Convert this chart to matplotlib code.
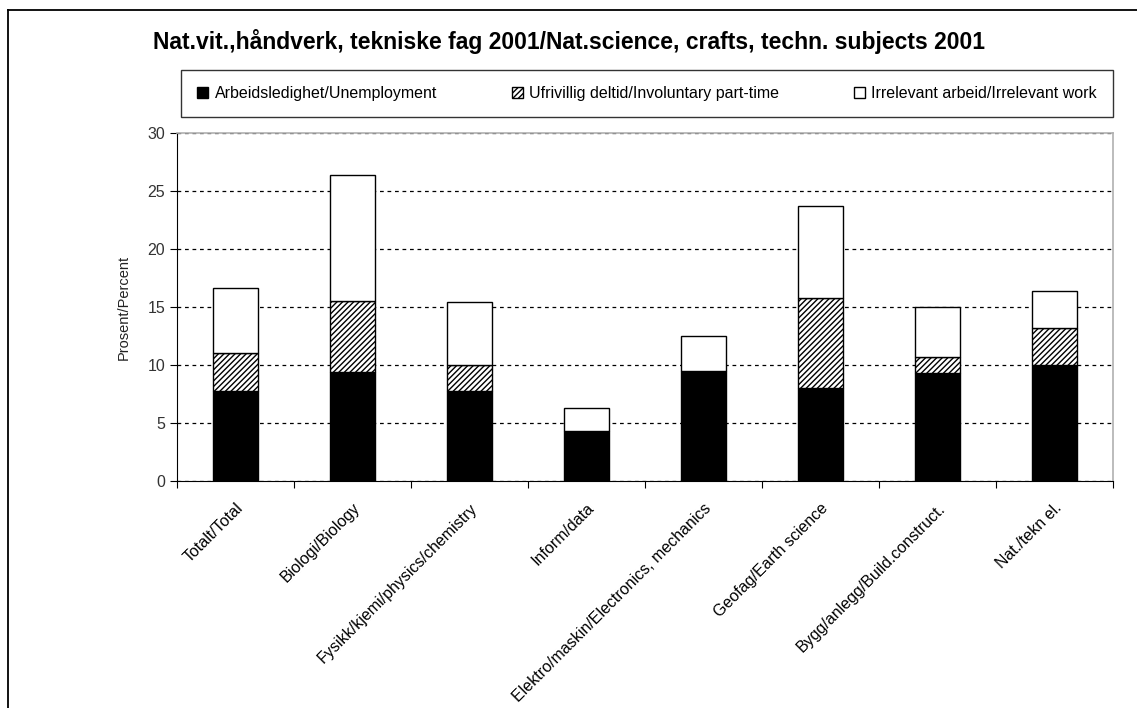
import numpy as np
import matplotlib.pyplot as plt
from matplotlib.patches import Rectangle
from matplotlib.lines import Line2D

plt.rcParams['font.family'] = ['Liberation Sans', 'DejaVu Sans']
plt.rcParams['hatch.linewidth'] = 1.0

categories = ["Totalt/Total", "Biologi/Biology", "Fysikk/kjemi/physics/chemistry",
              "Inform/data", "Elektro/maskin/Electronics, mechanics",
              "Geofag/Earth science", "Bygg/anlegg/Build.construct.", "Nat./tekn el."]
unemployment = [7.8, 9.4, 7.8, 4.3, 9.5, 8.0, 9.3, 10.0]
part_time = [3.2, 6.1, 2.2, 0.0, 0.0, 7.8, 1.4, 3.2]
irrelevant = [5.6, 10.9, 5.4, 2.0, 3.0, 7.9, 4.3, 3.2]

series_names = ["Arbeidsledighet/Unemployment",
                "Ufrivillig deltid/Involuntary part-time",
                "Irrelevant arbeid/Irrelevant work"]

W, H = 1137, 708
fig = plt.figure(figsize=(W / 100, H / 100), dpi=100)
# outer chart frame (only top and left edges are visible in the picture)
fig.lines.append(Line2D([8 / W, 1], [1 - 10 / H, 1 - 10 / H], transform=fig.transFigure,
                        color='black', linewidth=1.3))
fig.lines.append(Line2D([8 / W, 8 / W], [0, 1 - 10 / H], transform=fig.transFigure,
                        color='black', linewidth=1.3))

ax = fig.add_axes([177 / W, 1 - 481 / H, (1113 - 177) / W, (481 - 133) / H])

x = np.arange(len(categories))
w = 0.39
un = np.array(unemployment)
pt = np.array(part_time)
ir = np.array(irrelevant)

ax.bar(x, un, w, color='black', edgecolor='black', linewidth=1, zorder=3)
ax.bar(x, pt, w, bottom=un, color='white', edgecolor='black', hatch='//////',
       linewidth=1, zorder=3)
ax.bar(x, ir, w, bottom=un + pt, color='white', edgecolor='black', linewidth=1, zorder=3)

ax.set_xlim(-0.5, len(categories) - 0.5)
ax.set_ylim(0, 30)
ax.set_yticks(range(0, 31, 5))
ax.yaxis.grid(True, linestyle=(0, (3, 3)), color='black', linewidth=0.9, zorder=0)
ax.set_axisbelow(True)

ax.set_xticks(np.arange(len(categories) + 1) - 0.5, minor=False)
ax.set_xticklabels([])
ax.set_xticks(x, minor=True)
ax.set_xticklabels(categories, minor=True, rotation=45, ha='right',
                   rotation_mode='anchor', fontsize=11.5)
ax.tick_params(axis='x', which='minor', length=0, pad=14)
ax.tick_params(axis='x', which='major', length=5, direction='out', color='black')
ax.tick_params(axis='y', length=5, direction='out', labelsize=11.5, labelcolor='#333333',
               color='black')

for s in ['top', 'right']:
    ax.spines[s].set_color('#b0b0b0')
    ax.spines[s].set_linewidth(1.2)
for s in ['left', 'bottom']:
    ax.spines[s].set_color('black')

ax.set_ylabel("Prosent/Percent", fontsize=10.5, labelpad=12, color='#222222')

fig.text(569 / W, 1 - 42 / H,
         "Nat.vit.,håndverk, tekniske fag 2001/Nat.science, crafts, techn. subjects 2001",
         ha='center', va='center', fontsize=16.5, fontweight='bold')

handles = [Rectangle((0, 0), 1, 1, facecolor='black', edgecolor='black'),
           Rectangle((0, 0), 1, 1, facecolor='white', edgecolor='black', hatch='//////'),
           Rectangle((0, 0), 1, 1, facecolor='white', edgecolor='black')]
leg = fig.legend(handles, series_names, loc='upper left',
                 bbox_to_anchor=(181 / W, 1 - 115 / H, (1113 - 181) / W, 45 / H),
                 mode='expand', ncol=3, frameon=True, fancybox=False, edgecolor='black',
                 fontsize=11.5, handlelength=0.7, handleheight=0.7,
                 handletextpad=0.4, borderpad=1.0, borderaxespad=0)
leg.get_frame().set_linewidth(1.0)

fig.savefig('out.png', dpi=100)
